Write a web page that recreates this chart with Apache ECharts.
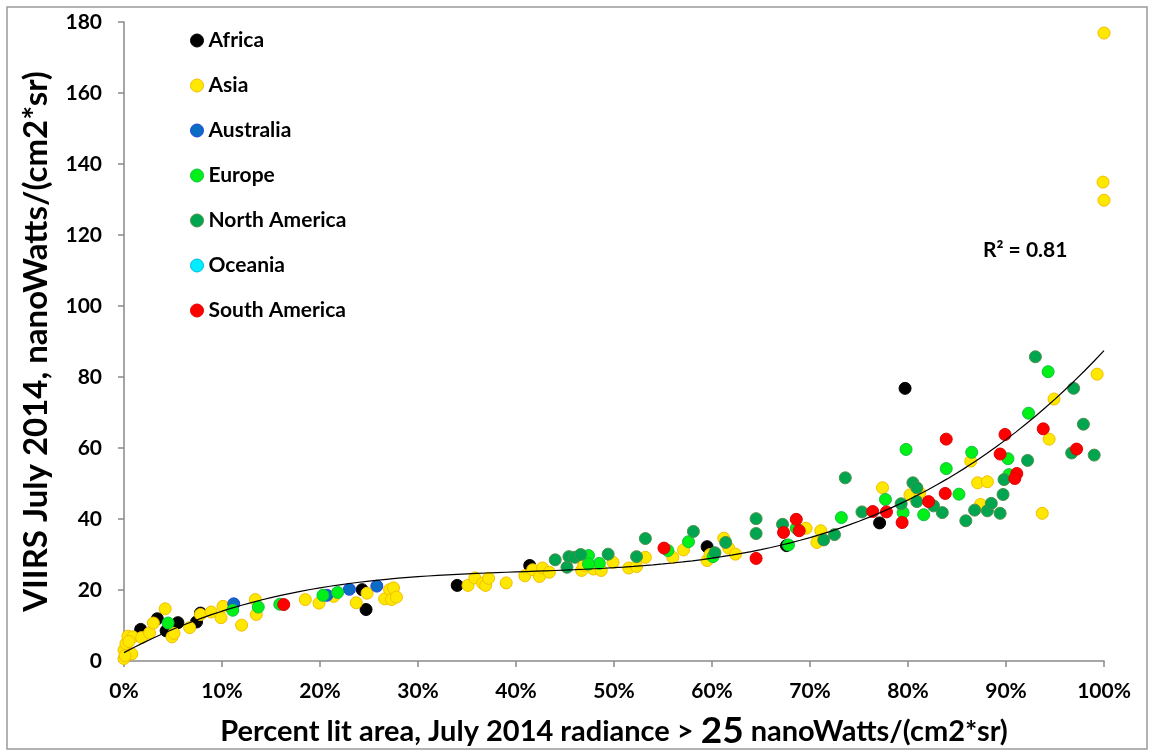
<!DOCTYPE html>
<html>
<head>
<meta charset="utf-8">
<script src="https://cdn.jsdelivr.net/npm/echarts@6/dist/echarts.min.js"></script>
<style>
html,body{margin:0;padding:0;background:#fff;}
#chart{width:1153px;height:755px;}
</style>
</head>
<body>
<div id="chart"></div>
<script>
// Each point: [percent lit area, VIIRS radiance]
const africa = [[1.7,8.9],[3.4,11.9],[4.3,8.5],[5.5,10.8],[7.4,11.0],[7.8,13.5],[24.3,20.1],[24.7,14.5],[34.0,21.3],[41.4,26.9],[59.5,32.2],[67.6,32.5],[77.1,38.9],[79.7,76.8]];
const asia = [[0,0.7],[0,3.1],[0.2,4.9],[0.4,7.0],[0.8,2.0],[0.9,6.8],[0.1,1.5],[0.5,5.5],[1.8,6.6],[2.6,7.9],[3.0,10.7],[4.2,14.7],[4.9,6.8],[5.1,7.8],[6.7,9.4],[7.8,13.1],[8.9,13.8],[9.9,12.2],[10.1,15.4],[12.0,10.1],[13.5,13.1],[13.4,17.3],
  [18.5,17.3],[19.9,16.3],[21.4,18.2],[23.7,16.4],[24.8,19.1],[26.6,17.5],[27.1,20.1],[27.5,20.6],[27.3,17.3],[27.8,18.0],
  [35.1,21.3],[35.8,23.4],[36.6,21.9],[36.9,21.3],[37.2,23.3],[39.0,22.0],[40.9,24.0],[41.7,25.7],[42.4,23.8],[42.7,26.2],[43.4,25.0],[46.7,25.5],[46.9,27.0],[47.9,25.9],[48.7,25.5],[49.9,27.8],
  [51.5,26.2],[52.3,26.6],[53.2,29.2],[56.0,29.2],[57.1,31.3],[59.5,28.3],[59.8,30.0],[61.2,34.6],[61.7,31.8],[62.4,30.1],
  [69.6,37.4],[71.1,36.7],[70.7,33.4],[77.4,48.8],[80.2,46.8],[81.2,47.4],
  [86.4,56.3],[87.1,50.2],[88.1,50.5],[87.4,44.1],[94.4,62.5],[94.9,73.8],[99.3,80.8],[93.7,41.6],
  [100,176.9],[99.9,134.9],[100,129.8]];
const australia = [[11.2,16.1],[20.7,18.5],[23.0,20.2],[25.8,21.1]];
const europe = [[4.5,10.7],[11.1,14.3],[13.7,15.2],[15.9,16.0],[20.3,18.5],[21.8,19.3],[47.4,29.7],[48.5,27.5],[47.4,27.3],[55.5,31.1],[57.6,33.6],[60.1,29.4],[67.8,32.7],[68.6,37.4],[73.2,40.4],[77.7,45.5],[79.8,59.6],[79.5,41.8],[81.6,41.2],[83.9,54.2],[85.2,47.0],[86.5,58.8],[90.2,57.0],[90.3,52.5],[92.3,69.8],[94.3,81.5]];
const northAmerica = [[44.0,28.5],[45.2,26.4],[45.4,29.4],[46.0,29.2],[46.6,30.0],[49.4,30.1],[52.3,29.4],[53.2,34.5],[58.1,36.5],[61.4,33.4],[60.3,30.5],[64.5,40.1],[64.5,35.9],[67.2,38.5],[71.4,34.1],[72.5,35.6],[73.6,51.6],[75.3,42.0],[79.3,44.3],[80.5,50.2],[80.9,48.8],[80.9,44.9],[82.6,43.7],[83.5,41.8],[85.9,39.5],[86.8,42.5],[88.1,42.3],[88.5,44.4],[89.4,41.6],[89.7,46.9],[89.8,51.1],[92.2,56.5],[93.0,85.7],[96.9,76.8],[97.9,66.7],[96.7,58.6],[99.0,58.0]];
const oceania = [];
const southAmerica = [[16.3,15.9],[55.1,31.8],[64.5,28.9],[67.3,36.2],[68.6,39.9],[68.9,36.7],[76.4,42.1],[77.8,42.0],[79.4,39.0],[82.1,44.9],[83.8,47.2],[83.9,62.5],[89.4,58.3],[89.9,63.8],[91.1,52.8],[90.9,51.4],[93.8,65.4],[97.2,59.7]];

const regionNames = ['Africa','Asia','Australia','Europe','North America','Oceania','South America'];
const xTicks = [0,10,20,30,40,50,60,70,80,90,100];
const yTicks = [0,20,40,60,80,100,120,140,160,180];
const rSquaredLabel = 'R\u00B2 = 0.81';

// Least-squares cubic trendline computed from all points (like a spreadsheet trendline)
function cubicFit(points){
  const n = 4;
  const A = Array.from({length:n},()=>new Array(n).fill(0));
  const b = new Array(n).fill(0);
  points.forEach(([px,py])=>{
    const x = px/100;
    const pw = [1,x,x*x,x*x*x];
    for(let i=0;i<n;i++){
      b[i]+=pw[i]*py;
      for(let j=0;j<n;j++) A[i][j]+=pw[i]*pw[j];
    }
  });
  for(let i=0;i<n;i++){
    let m=i;
    for(let k=i+1;k<n;k++) if(Math.abs(A[k][i])>Math.abs(A[m][i])) m=k;
    [A[i],A[m]]=[A[m],A[i]]; [b[i],b[m]]=[b[m],b[i]];
    for(let k=i+1;k<n;k++){
      const f=A[k][i]/A[i][i];
      for(let j=i;j<n;j++) A[k][j]-=f*A[i][j];
      b[k]-=f*b[i];
    }
  }
  const c=new Array(n).fill(0);
  for(let i=n-1;i>=0;i--){
    let s=b[i];
    for(let j=i+1;j<n;j++) s-=A[i][j]*c[j];
    c[i]=s/A[i][i];
  }
  return c;
}
const allPoints = [].concat(africa,asia,australia,europe,northAmerica,oceania,southAmerica);
const coef = cubicFit(allPoints);
const trend = [];
for(let p=0;p<=100;p+=1){
  const x=p/100;
  trend.push([p, coef[0]+coef[1]*x+coef[2]*x*x+coef[3]*x*x*x]);
}

const styles = {
  'Africa':{fill:'#000000',border:'#000000'},
  'Asia':{fill:'#FFE800',border:'#F2BE00'},
  'Australia':{fill:'#0B6CC4',border:'#2142E0'},
  'Europe':{fill:'#00F018',border:'#12C040'},
  'North America':{fill:'#00A54F',border:'#4F8F4A'},
  'Oceania':{fill:'#00EEFF',border:'#00B8E0'},
  'South America':{fill:'#FF0000',border:'#E00000'}
};
const dataSets = [africa,asia,australia,europe,northAmerica,oceania,southAmerica];

const FONT = 'Lato';
const series = regionNames.map((name,i)=>({
  name:name,
  type:'scatter',
  data:dataSets[i],
  symbol:'circle',
  symbolSize:12,
  itemStyle:{color:styles[name].fill,borderColor:styles[name].border,borderWidth:1,opacity:1},
  emphasis:{disabled:true},
  z:3+i
}));
series.push({
  name:'trend',
  type:'line',
  data:trend,
  showSymbol:false,
  symbol:'none',
  smooth:false,
  lineStyle:{color:'#000',width:1.2},
  silent:true,
  z:20
});

const chart = echarts.init(document.getElementById('chart'),null,{renderer:'canvas'});
chart.setOption({
  animation:false,
  backgroundColor:'#fff',
  grid:{left:124,right:49,top:22,bottom:91,containLabel:false},
  legend:{
    data:regionNames.map(n=>({name:n,icon:'circle',itemStyle:{color:styles[n].fill,borderColor:styles[n].border,borderWidth:1}})),
    orient:'vertical',
    left:185,
    top:25,
    itemWidth:13,
    itemHeight:13,
    itemGap:24,
    textStyle:{fontFamily:FONT,fontWeight:'bold',fontSize:21,color:'#000',padding:[0,0,0,0]},
    selectedMode:false
  },
  xAxis:{
    type:'value',
    min:0,max:100,interval:10,
    axisLine:{show:true,lineStyle:{color:'#898989',width:1.5}},
    axisTick:{show:true,length:6,lineStyle:{color:'#898989',width:1.5}},
    splitLine:{show:false},
    axisLabel:{formatter:v=>xTicks.includes(v)?v+'%':'',fontFamily:FONT,fontWeight:'bold',fontSize:21,color:'#000',margin:20},
    name:'{a|Percent lit area, July 2014 radiance > }{b|25}{a| nanoWatts/(cm2*sr)}',
    nameLocation:'middle',
    nameGap:52,
    nameTextStyle:{rich:{a:{fontFamily:FONT,fontWeight:'bold',fontSize:29,color:'#000'},b:{fontFamily:FONT,fontWeight:'bold',fontSize:37,color:'#000'}}}
  },
  yAxis:{
    type:'value',
    min:0,max:180,interval:20,
    axisLine:{show:true,lineStyle:{color:'#898989',width:1.5}},
    axisTick:{show:true,length:6,lineStyle:{color:'#898989',width:1.5}},
    splitLine:{show:false},
    axisLabel:{formatter:v=>yTicks.includes(v)?String(v):'',fontFamily:FONT,fontWeight:'bold',fontSize:21,color:'#000',margin:22},
    name:'VIIRS July 2014, nanoWatts/(cm2*sr)',
    nameLocation:'middle',
    nameGap:71,
    nameTextStyle:{fontFamily:FONT,fontWeight:'bold',fontSize:33,color:'#000'}
  },
  graphic:[
    {type:'rect',shape:{x:7,y:7,width:1140,height:742},style:{fill:null,stroke:'#9a9a9a',lineWidth:1.5},silent:true,z:-1},
    {type:'text',left:983,top:240,style:{text:rSquaredLabel,fontFamily:FONT,fontWeight:'bold',fontSize:21,fill:'#000'},silent:true}
  ],
  series:series
});
</script>
</body>
</html>
